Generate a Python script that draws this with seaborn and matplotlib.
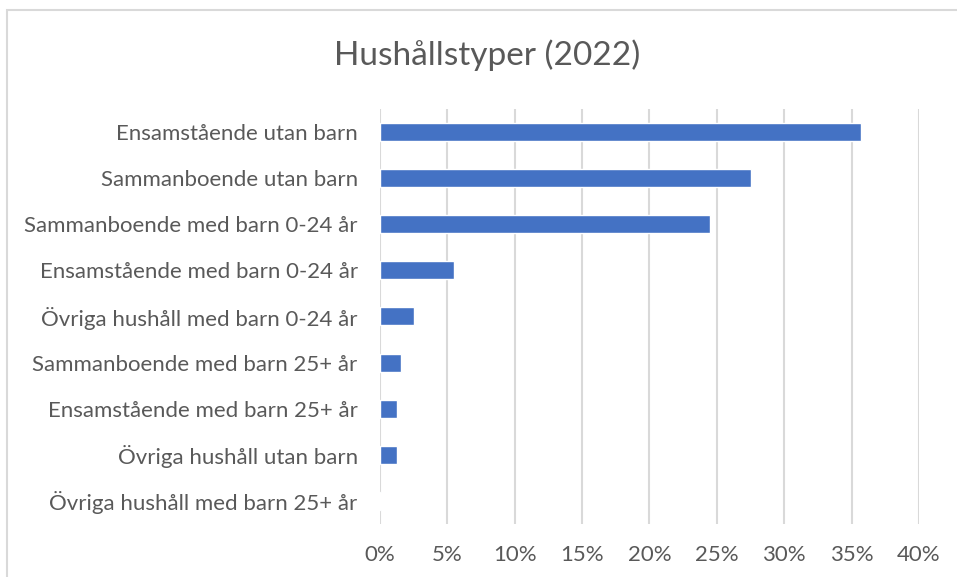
import pandas as pd
import seaborn as sns
import matplotlib.pyplot as plt
from matplotlib.patches import Rectangle
from matplotlib.ticker import PercentFormatter

# Data (share of households, %)
categories = [
    'Ensamstående utan barn',
    'Sammanboende utan barn',
    'Sammanboende med barn 0-24 år',
    'Ensamstående med barn 0-24 år',
    'Övriga hushåll med barn 0-24 år',
    'Sammanboende med barn 25+ år',
    'Ensamstående med barn 25+ år',
    'Övriga hushåll utan barn',
    'Övriga hushåll med barn 25+ år',
]
shares = [35.7, 27.5, 24.5, 5.5, 2.5, 1.6, 1.3, 1.3, 0.1]
x_ticks = [0, 5, 10, 15, 20, 25, 30, 35, 40]

df = pd.DataFrame({'Hushållstyp': categories, 'Andel': shares})

sns.set_style('white')
plt.rcParams['font.family'] = ['Lato', 'DejaVu Sans']
text_color = '#595959'
grid_color = '#d9d9d9'

fig = plt.figure(figsize=(9.57, 5.77), dpi=100)
ax = fig.add_axes([0.397, 0.092, 0.5633, 0.719])

sns.barplot(data=df, x='Andel', y='Hushållstyp', orient='h',
            color='#4472C4', width=0.39, saturation=1, ax=ax, zorder=3)

ax.set_xlim(0, 40)
ax.set_xticks(x_ticks)
ax.xaxis.set_major_formatter(PercentFormatter(decimals=0))
ax.grid(axis='x', color=grid_color, linewidth=1.5, zorder=0)
ax.grid(axis='y', visible=False)
ax.set_axisbelow(True)
for s in ax.spines.values():
    s.set_visible(False)
ax.set_xlabel('')
ax.set_ylabel('')
ax.tick_params(axis='both', length=0, labelsize=16, colors=text_color)
ax.tick_params(axis='x', pad=15)
ax.tick_params(axis='y', pad=16)

fig.text(0.509, 0.905, 'Hushållstyper (2022)', ha='center', va='center',
         fontsize=24, color=text_color)

# light chart border (top and left edges visible in the crop)
fig.patches.append(Rectangle((6.5 / 957, -0.1), 1.2, 1.1 - 10 / 577,
                             transform=fig.transFigure, fill=False,
                             edgecolor=grid_color, linewidth=1.5))

fig.savefig('out.png', dpi=100)
